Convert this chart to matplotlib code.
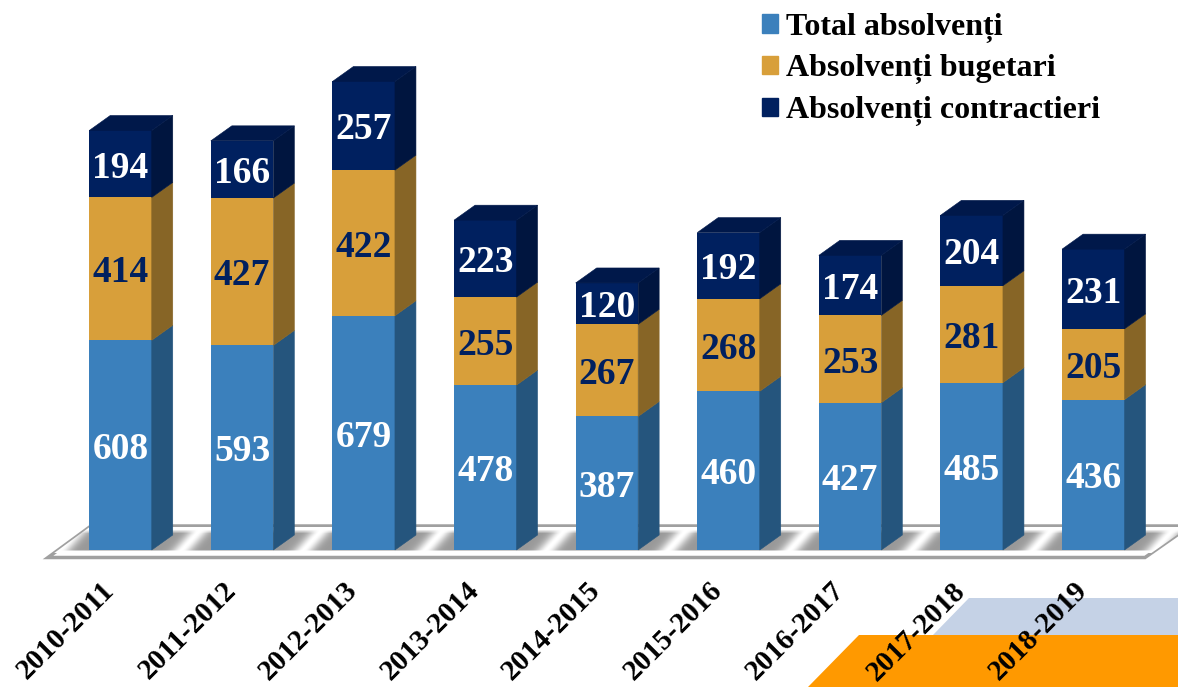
import numpy as np
import matplotlib
matplotlib.use('Agg')
import matplotlib.pyplot as plt
from matplotlib.patches import Polygon, Patch

years = ['2010-2011', '2011-2012', '2012-2013', '2013-2014', '2014-2015',
         '2015-2016', '2016-2017', '2017-2018', '2018-2019']
total = [608, 593, 679, 478, 387, 460, 427, 485, 436]
bugetari = [414, 427, 422, 255, 267, 268, 253, 281, 205]
contractieri = [194, 166, 257, 223, 120, 192, 174, 204, 231]
series = [total, bugetari, contractieri]
names = ['Total absolvenți', 'Absolvenți bugetari', 'Absolvenți contractieri']

front = ['#3B80BC', '#D89F3A', '#00205F']
side = ['#25557D', '#876526', '#00153F']
top = '#00184A'
text_col = ['white', '#00205F', 'white']

W, H = 1178, 687
x0, step = 120.5, 121.6   # pixel position of first bar, bar spacing
base, scale = 550, 0.345  # pixel of y=0, pixels per student
bar_w = 62.5 / step
dx, dy = 21 / step, 15 / scale

fig = plt.figure(figsize=(W / 100, H / 100), dpi=100)
ax = fig.add_axes([0, 0, 1, 1])
ax.axis('off')


def px(x, y):
    # pixel position -> data position, only for decoration
    return (x - x0) / step, (base - y) / scale


# decoration bottom right
ax.add_patch(Polygon([px(969, 598), px(1178, 598), px(1178, 635), px(933, 635)],
                     fc='#C5D2E6', ec='none', zorder=1))
ax.add_patch(Polygon([px(859, 635), px(1178, 635), px(1178, 687), px(808, 687)],
                     fc='#FF9900', ec='none', zorder=1))

# floor with diagonal shading
floor = Polygon([px(48, 557.5), px(1145, 557.5), px(1190, 526), px(91, 526)],
                fc='white', ec='#A0A0A0', lw=2.5, zorder=2, joinstyle='miter')
ax.add_patch(floor)
gx, gy = np.meshgrid(np.arange(W), np.arange(527, 553))
phase = ((gx - 0.9 * (548 - gy) - x0) / step) % 1
dist = np.abs(phase - 0.515) * step
shade = 0.6 + 0.4 * np.exp(-(dist / 10) ** 2)
fade = np.clip((gy - 529) / 4, 0, 1) * np.clip((551 - gy) / 2, 0, 1)
img = 1 - (1 - shade) * fade
im = ax.imshow(img, cmap='gray', vmin=0, vmax=1, aspect='auto', zorder=2.1,
               extent=(px(0, 0)[0], px(W, 0)[0], px(0, 553)[1], px(0, 527)[1]))
im.set_clip_path(floor)
ax.set_xlim(-x0 / step, (W - x0) / step)
ax.set_ylim((base - H) / scale, base / scale)

# bars
pos = np.arange(len(years))
bottom = np.zeros(len(years))
for i, vals in enumerate(series):
    ax.bar(pos, vals, bar_w, bottom=bottom, color=front[i], zorder=3)
    for p, b, v in zip(pos, bottom, vals):
        r = p + bar_w / 2
        ax.add_patch(Polygon([(r, b), (r + dx, b + dy), (r + dx, b + v + dy), (r, b + v)],
                             fc=side[i], ec=side[i], lw=0.4, zorder=3))
        ax.text(p, b + v / 2 - 12, str(v), ha='center', va='center', color=text_col[i],
                fontsize=27, fontweight='bold', family='Liberation Serif', zorder=5)
    bottom = bottom + np.array(vals)

for p, b in zip(pos, bottom):
    l, r = p - bar_w / 2, p + bar_w / 2
    ax.add_patch(Polygon([(l, b), (r, b), (r + dx, b + dy), (l + dx, b + dy)],
                         fc=top, ec=top, lw=0.4, zorder=3))

# year labels, rotated
for p, y in zip(pos, years):
    ax.annotate(y, (p, 0), xytext=(-20, -27), textcoords='offset pixels', rotation=45,
                rotation_mode='anchor', ha='right', va='top', color='black',
                fontsize=21, fontweight='bold', family='Liberation Serif', zorder=6)

handles = [Patch(color=c) for c in front]
fig.legend(handles, names, loc='upper left', bbox_to_anchor=(736 / W, 1 + 13 / H),
           frameon=False, handlelength=0.52, handleheight=0.52, handletextpad=0.25,
           labelspacing=0.37, borderpad=0.3,
           prop={'family': 'Liberation Serif', 'weight': 'bold', 'size': 23})

fig.savefig('out.png', dpi=100)
